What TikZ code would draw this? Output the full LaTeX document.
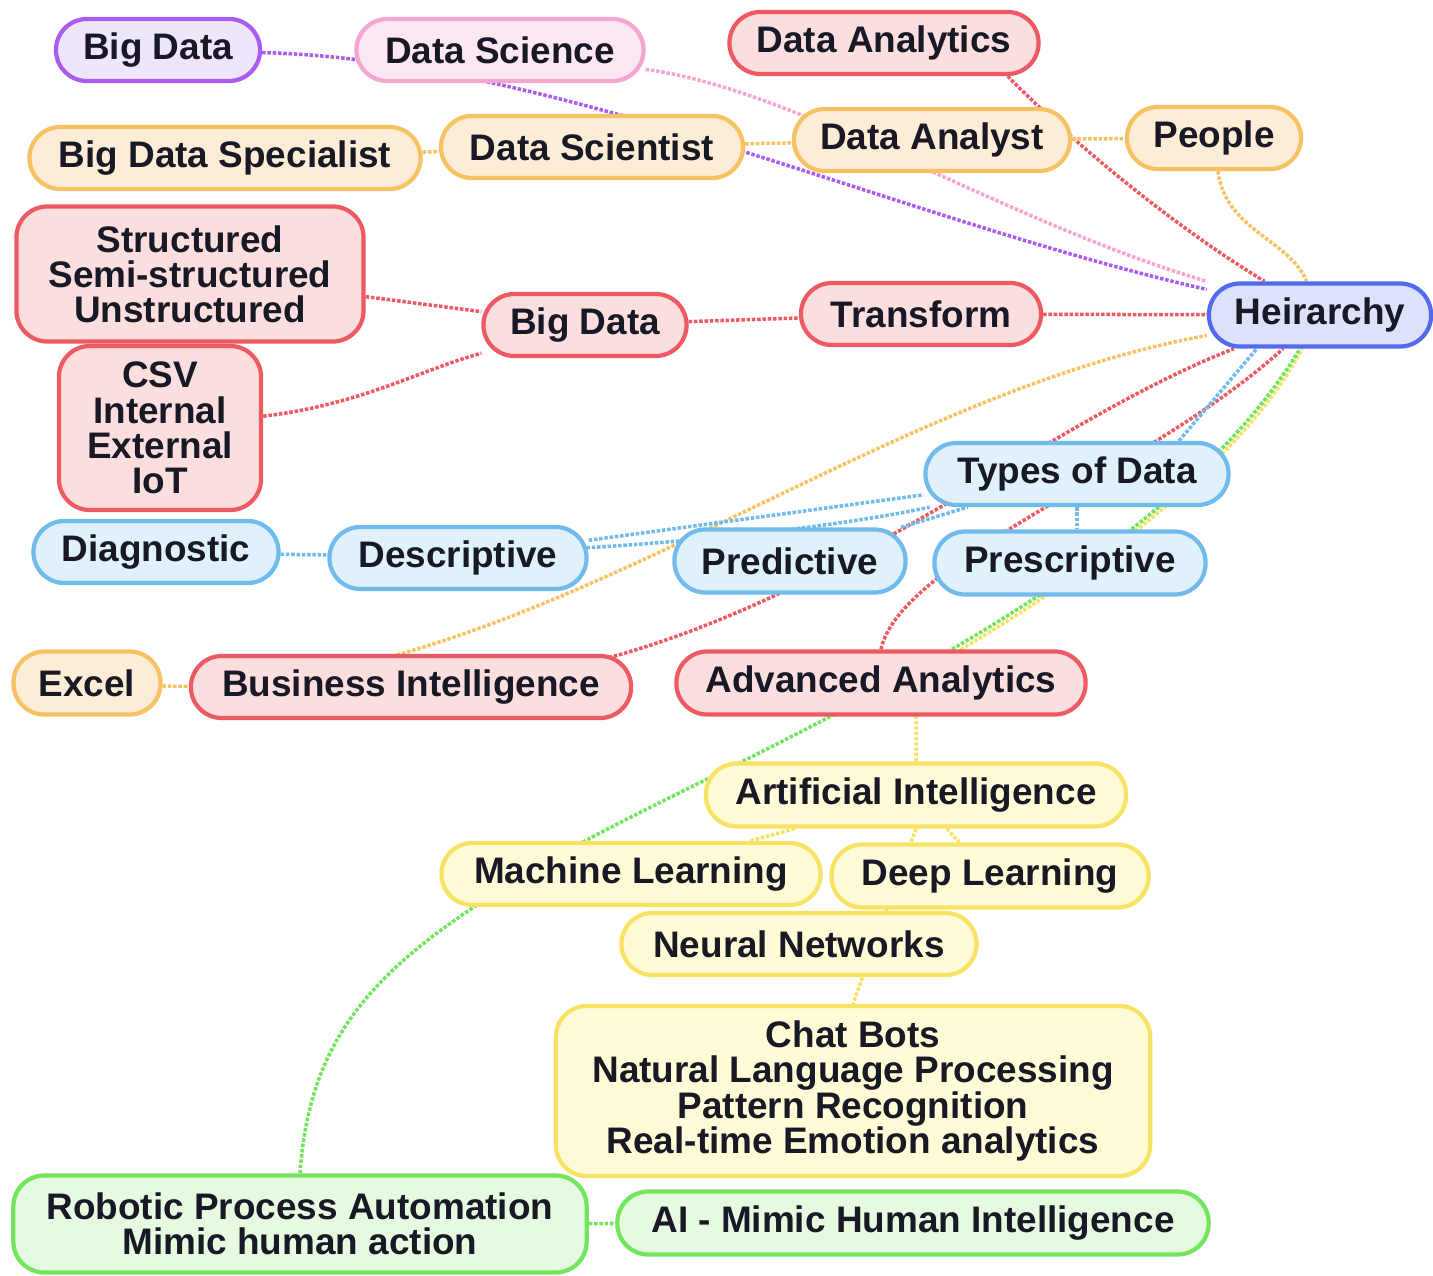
\documentclass[tikz,border=0pt]{standalone}
\usepackage{fontspec}
\setsansfont{Liberation Sans}
\usepackage{xcolor}
\usepackage{tikz}
\usetikzlibrary{backgrounds}

\definecolor{redline}{RGB}{237,90,100}
\definecolor{redfill}{RGB}{251,222,222}
\definecolor{orangeline}{RGB}{246,194,100}
\definecolor{orangefill}{RGB}{253,236,214}
\definecolor{purpleline}{RGB}{170,92,240}
\definecolor{purplefill}{RGB}{239,230,253}
\definecolor{pinkline}{RGB}{244,165,208}
\definecolor{pinkfill}{RGB}{253,231,242}
\definecolor{blueline}{RGB}{84,106,236}
\definecolor{bluefill}{RGB}{221,226,251}
\definecolor{skyline}{RGB}{112,186,236}
\definecolor{skyfill}{RGB}{223,242,252}
\definecolor{yellowline}{RGB}{248,226,100}
\definecolor{yellowfill}{RGB}{254,251,214}
\definecolor{greenline}{RGB}{114,228,94}
\definecolor{greenfill}{RGB}{229,250,224}
\definecolor{labeltext}{RGB}{25,25,38}

\tikzstyle{bubble} = [rectangle, rounded corners=0.31cm, line width=1.2pt, minimum height=0.62cm, align=center, inner sep=2pt, text=labeltext, font=\sffamily\bfseries\fontsize{10.5}{10}\selectfont]
\tikzstyle{redbox} = [bubble, draw=redline, fill=redfill]
\tikzstyle{orangebox} = [bubble, draw=orangeline, fill=orangefill]
\tikzstyle{purplebox} = [bubble, draw=purpleline, fill=purplefill]
\tikzstyle{pinkbox} = [bubble, draw=pinkline, fill=pinkfill]
\tikzstyle{bluebox} = [bubble, draw=blueline, fill=bluefill]
\tikzstyle{skybox} = [bubble, draw=skyline, fill=skyfill]
\tikzstyle{yellowbox} = [bubble, draw=yellowline, fill=yellowfill]
\tikzstyle{greenbox} = [bubble, draw=greenline, fill=greenfill]
\tikzstyle{link} = [line width=1pt, dash pattern=on 1pt off 0.5pt]

\begin{document}
\begin{tikzpicture}[x=0.01cm, y=-0.01cm]
  \useasboundingbox (0,0) rectangle (1433,1276);

  \node (bigdataP) [purplebox, minimum width=2.04cm] at (158,50) {Big Data};
  \node (datasci) [pinkbox, minimum width=2.87cm] at (500,50) {Data Science};
  \node (danalytics) [redbox, minimum width=3.09cm] at (884,43) {Data Analytics};
  \node (bdspec) [orangebox, minimum width=3.91cm] at (225,158) {Big Data Specialist};
  \node (dscientist) [orangebox, minimum width=3.02cm] at (592,147) {Data Scientist};
  \node (danalyst) [orangebox, minimum width=2.76cm] at (932,140) {Data Analyst};
  \node (people) [orangebox, minimum width=1.74cm] at (1214,138) {People};
  \node (structured) [redbox, minimum width=3.47cm, minimum height=1.35cm] at (190,274) {Structured\\Semi-structured\\Unstructured};
  \node (bigdataR) [redbox, minimum width=2.03cm] at (585,325) {Big Data};
  \node (transform) [redbox, minimum width=2.40cm] at (921,314) {Transform};
  \node (heirarchy) [bluebox, minimum width=2.22cm, minimum height=0.63cm] at (1320,315) {Heirarchy};
  \node (csv) [redbox, minimum width=2.02cm, minimum height=1.64cm] at (160,428) {CSV\\Internal\\External\\IoT};
  \node (typesdata) [skybox, minimum width=3.03cm] at (1077,474) {Types of Data};
  \node (diagnostic) [skybox, minimum width=2.45cm] at (156,552) {Diagnostic};
  \node (descriptive) [skybox, minimum width=2.57cm] at (458,558) {Descriptive};
  \node (predictive) [skybox, minimum width=2.31cm, minimum height=0.63cm] at (790,561) {Predictive};
  \node (prescriptive) [skybox, minimum width=2.71cm, minimum height=0.63cm] at (1070,563) {Prescriptive};
  \node (excel) [orangebox, minimum width=1.47cm, minimum height=0.63cm] at (87,683) {Excel};
  \node (bi) [redbox, minimum width=4.40cm] at (411,687) {Business Intelligence};
  \node (advanced) [redbox, minimum width=4.09cm, minimum height=0.63cm] at (881,683) {Advanced Analytics};
  \node (ai) [yellowbox, minimum width=4.20cm, minimum height=0.63cm] at (916,795) {Artificial Intelligence};
  \node (ml) [yellowbox, minimum width=3.79cm] at (631,874) {Machine Learning};
  \node (dl) [yellowbox, minimum width=3.17cm, minimum height=0.63cm] at (990,876) {Deep Learning};
  \node (nn) [yellowbox, minimum width=3.55cm] at (799,944) {Neural Networks};
  \node (chatbots) [yellowbox, minimum width=5.94cm, minimum height=1.70cm] at (853,1091) {Chat Bots\\Natural Language Processing\\Pattern Recognition\\Real-time Emotion analytics};
  \node (rpa) [greenbox, minimum width=5.73cm, minimum height=0.97cm] at (300,1224) {Robotic Process Automation\\Mimic human action};
  \node (aimimic) [greenbox, minimum width=5.91cm, minimum height=0.63cm] at (913,1223) {AI - Mimic Human Intelligence};

  \begin{scope}[on background layer]
    \draw[link, purpleline] (bigdataP) .. controls (560,60) and (900,220) .. (heirarchy);
    \draw[link, pinkline] (datasci) .. controls (800,90) and (1000,220) .. (heirarchy);
    \draw[link, redline] (danalytics.-15) .. controls (1080,150) and (1180,230) .. (heirarchy);
    \draw[link, orangeline] (bdspec) -- (dscientist);
    \draw[link, orangeline] (dscientist) -- (danalyst);
    \draw[link, orangeline] (danalyst) -- (people);
    \draw[link, orangeline] (people) .. controls (1225,230) and (1290,240) .. (heirarchy);
    \draw[link, redline] (structured) -- (bigdataR);
    \draw[link, redline] (csv) .. controls (360,405) and (420,370) .. (bigdataR);
    \draw[link, redline] (bigdataR) -- (transform);
    \draw[link, redline] (transform) -- (heirarchy);
    \draw[link, orangeline] (excel) .. controls (520,700) and (850,400) .. (heirarchy);
    \draw[link, redline] (bi.center) .. controls (760,680) and (1000,440) .. (heirarchy);
    \draw[link, redline] (advanced.north) .. controls (900,560) and (1150,470) .. (heirarchy);
    \draw[link, skyline] (typesdata.18) -- (heirarchy.208);
    \draw[link, skyline] (descriptive) -- (typesdata);
    \draw[link, skyline] (diagnostic) .. controls (600,560) and (850,525) .. (typesdata);
    \draw[link, skyline] (predictive) -- (typesdata);
    \draw[link, skyline] (typesdata.south) -- (typesdata.south |- prescriptive.north);
    \draw[link, yellowline] (ai.north) -- (916,700) -- (894,688) .. controls (1060,596) and (1236,474) .. (heirarchy);
    \draw[link, greenline] (rpa.north) .. controls (310,1030) and (380,960) .. (540,866) .. controls (700,770) and (1150,600) .. (heirarchy);
    \draw[link, yellowline] (ai) -- (ml);
    \draw[link, yellowline] (ai) -- (dl);
    \draw[link, yellowline] (ai.south) -- (chatbots.north);
    \draw[link, greenline] (rpa) -- (aimimic);
  \end{scope}
\end{tikzpicture}
\end{document}
